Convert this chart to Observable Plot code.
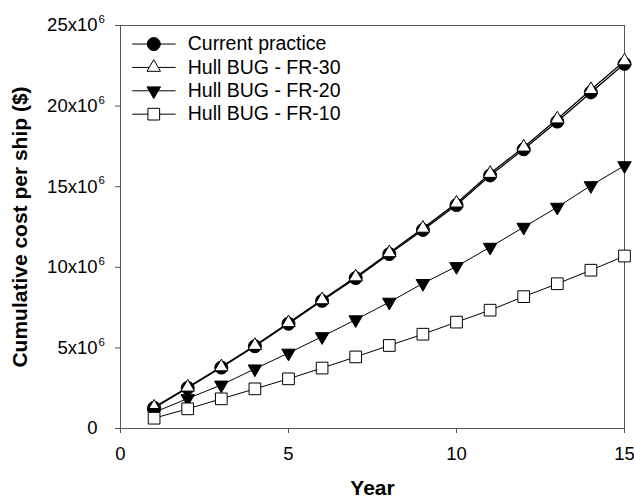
<!DOCTYPE html>
<html>
<head>
<meta charset="utf-8">
<script src="https://cdn.jsdelivr.net/npm/d3@7"></script>
<script src="https://cdn.jsdelivr.net/npm/@observablehq/plot@0.6"></script>
<style>
  html, body { margin: 0; padding: 0; background: #fff; }
</style>
</head>
<body>
<div id="chart"></div>
<script>
const years = [1, 2, 3, 4, 5, 6, 7, 8, 9, 10, 11, 12, 13, 14, 15];
const currentPractice = [1.28, 2.52, 3.78, 5.10, 6.50, 7.92, 9.33, 10.82, 12.32, 13.86, 15.70, 17.32, 19.04, 20.85, 22.62];
const fr30 = [1.32, 2.56, 3.82, 5.15, 6.56, 7.98, 9.40, 10.90, 12.42, 13.98, 15.82, 17.45, 19.20, 21.02, 22.80];
const fr20 = [1.00, 1.86, 2.70, 3.70, 4.68, 5.70, 6.75, 7.84, 9.00, 10.05, 11.25, 12.49, 13.73, 15.07, 16.31];
const fr10 = [0.64, 1.22, 1.84, 2.46, 3.08, 3.75, 4.44, 5.15, 5.85, 6.60, 7.34, 8.18, 8.98, 9.82, 10.70];
const seriesNames = ["Current practice", "Hull BUG - FR-30", "Hull BUG - FR-20", "Hull BUG - FR-10"];
const xTicks = [0, 5, 10, 15];
const yTicks = [0, 5e6, 10e6, 15e6, 20e6, 25e6];
const xLabel = "Year";
const yLabel = "Cumulative cost per ship ($)";

// legend layout (data-space anchors inside the frame)
const legendRowsY = [23.85e6, 22.4e6, 20.95e6, 19.5e6];
const legendLineX = [0.35, 1.64];
const legendMarkX = 0.99;
const legendTextX = 2.0;

const styles = [
  {symbol: "circle", fill: "black", r: 6.5, rotate: 0, sw: 1.3},
  {symbol: "triangle", fill: "white", r: 5.0, rotate: 0, sw: 1.3},
  {symbol: "triangle", fill: "black", r: 5.0, rotate: 180, sw: 1},
  {symbol: "square", fill: "white", r: 6.6, rotate: 0, sw: 1}
];

const allValues = [currentPractice, fr30, fr20, fr10];
const series = allValues.map((vals, i) =>
  years.map((yr, j) => ({year: yr, value: vals[j] * 1e6, series: seriesNames[i]}))
);

const marks = [];
// axes & frame
marks.push(Plot.frame({stroke: "#555"}));
marks.push(Plot.axisX({ticks: xTicks, tickSize: 5, tickPadding: 13, fontSize: 18.5, label: null, stroke: "#555", fill: "black"}));
marks.push(Plot.axisY({ticks: yTicks, tickSize: 5, tickFormat: () => "", label: null, stroke: "#555"}));
marks.push(Plot.text(yTicks, {y: d => d, frameAnchor: "left", dx: -23, textAnchor: "end", fontSize: 18.5, fill: "black",
  text: d => d === 0 ? "0" : `${d / 1e6}x10`}));
marks.push(Plot.text(yTicks.filter(d => d > 0), {y: d => d, frameAnchor: "left", dx: -22, dy: -6, textAnchor: "start", fontSize: 11.5, fill: "black",
  text: () => "6"}));
// axis titles
marks.push(Plot.text([xLabel], {frameAnchor: "bottom", dy: 66, textAnchor: "middle", fontSize: 21, fontWeight: "bold", fill: "black", text: d => d}));
marks.push(Plot.text([yLabel], {frameAnchor: "left", dx: -100, rotate: -90, textAnchor: "middle", fontSize: 21, fontWeight: "bold", fill: "black", text: d => d}));

// lines
series.forEach((data, i) => {
  marks.push(Plot.line(data, {x: "year", y: "value", stroke: "black", strokeWidth: styles[i].sw}));
});
// markers (FR-30 drawn after current practice so it sits on top)
series.forEach((data, i) => {
  const s = styles[i];
  marks.push(Plot.dot(data, {x: "year", y: "value", symbol: s.symbol, r: s.r, fill: s.fill, stroke: "black", strokeWidth: 1, rotate: s.rotate}));
});

// legend
seriesNames.forEach((name, i) => {
  const s = styles[i];
  const yv = legendRowsY[i];
  marks.push(Plot.link([name], {x1: legendLineX[0], x2: legendLineX[1], y1: yv, y2: yv, stroke: "black", strokeWidth: 1}));
  marks.push(Plot.dot([name], {x: legendMarkX, y: yv, symbol: s.symbol, r: s.r, fill: s.fill, stroke: "black", strokeWidth: 1, rotate: s.rotate}));
  marks.push(Plot.text([name], {x: legendTextX, y: yv, textAnchor: "start", fontSize: 19.5, fill: "black", text: d => d}));
});

const chart = Plot.plot({
  width: 634,
  height: 498,
  marginLeft: 120,
  marginRight: 10,
  marginTop: 25,
  marginBottom: 70,
  style: {fontFamily: "'Liberation Sans', Arial, sans-serif", background: "white", color: "black"},
  x: {domain: [0, 15]},
  y: {domain: [0, 25e6]},
  marks
});
document.getElementById("chart").appendChild(chart);
</script>
</body>
</html>
